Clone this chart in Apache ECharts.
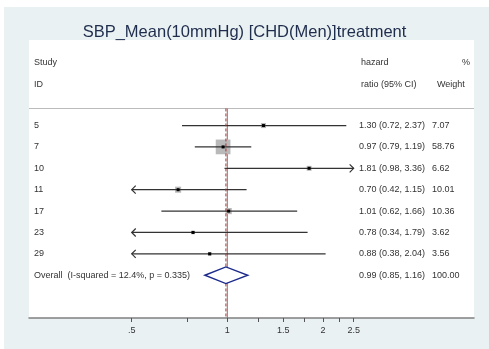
<!DOCTYPE html>
<html><head><meta charset="utf-8">
<script src="https://cdn.jsdelivr.net/npm/echarts@6/dist/echarts.min.js"></script>
<style>
html,body{margin:0;padding:0;background:#fff;}
#bg{position:absolute;left:4px;top:7px;width:485px;height:342px;background:#e9f1f2;}
#main{position:absolute;left:0;top:0;width:489px;height:349px;}
</style></head>
<body><div id="bg"></div><div id="main"></div>
<script>
const titleText = 'SBP_Mean(10mmHg) [CHD(Men)]treatment';
const studies = ['5','7','10','11','17','23','29'];
const hr = [1.30, 0.97, 1.81, 0.70, 1.01, 0.78, 0.88];
const lo = [0.72, 0.79, 0.98, 0.42, 0.62, 0.34, 0.38];
const hi = [2.37, 1.19, 3.36, 1.15, 1.66, 1.79, 2.04];
const weights = [7.07, 58.76, 6.62, 10.01, 10.36, 3.62, 3.56];
const ciText = ['1.30 (0.72, 2.37)','0.97 (0.79, 1.19)','1.81 (0.98, 3.36)','0.70 (0.42, 1.15)','1.01 (0.62, 1.66)','0.78 (0.34, 1.79)','0.88 (0.38, 2.04)'];
const weightText = ['7.07','58.76','6.62','10.01','10.36','3.62','3.56'];
const overallLabel = 'Overall  (I-squared = 12.4%, p = 0.335)';
const overallES = 0.99, overallLo = 0.85, overallHi = 1.16;
const overallCI = '0.99 (0.85, 1.16)';
const overallWeight = '100.00';
const tickValues = [0.5, 1, 1.5, 2, 2.5];
const tickLabels = ['.5', '1', '1.5', '2', '2.5'];
const minorTicks = [0.75, 1.25, 1.75, 2.25];
const plotMin = 0.5, plotMax = 2.5;
const nullValue = 1;

const L = Math.log;
const FONT = '"Liberation Sans", Arial, sans-serif';
const TXT = '#333';
const xText = {id: 34, ci: 359, w: 432};

const chart = echarts.init(document.getElementById('main'), null, {renderer: 'canvas'});

function studyItem(params, api) {
  const i = params.dataIndex;
  const y = api.coord([0, i])[1];
  const cx = v => api.coord([L(v), i])[0];
  const children = [];
  const l = Math.max(lo[i], plotMin), h = Math.min(hi[i], plotMax);
  const x1 = cx(l), x2 = cx(h);
  const lineStyle = {stroke: '#333', lineWidth: 1.2, fill: null};
  const s = 1.92 * Math.sqrt(weights[i]);
  const xp = cx(hr[i]);
  children.push({type: 'rect', shape: {x: xp - s/2, y: y - s/2, width: s, height: s}, style: {fill: '#b9b9b9'}});
  children.push({type: 'line', shape: {x1: x1, y1: y, x2: x2, y2: y}, style: lineStyle});
  if (lo[i] < plotMin) children.push({type: 'polyline', shape: {points: [[x1 + 4, y - 4], [x1, y], [x1 + 4, y + 4]]}, style: lineStyle});
  if (hi[i] > plotMax) children.push({type: 'polyline', shape: {points: [[x2 - 4, y - 4], [x2, y], [x2 - 4, y + 4]]}, style: lineStyle});
  children.push({type: 'rect', shape: {x: xp - 1.5, y: y - 1.5, width: 3, height: 3}, style: {fill: '#000'}});
  const ts = {fill: TXT, fontSize: 9, fontFamily: FONT, verticalAlign: 'middle', align: 'left'};
  children.push({type: 'text', x: xText.id, y: y, style: Object.assign({text: studies[i]}, ts)});
  children.push({type: 'text', x: xText.ci, y: y, style: Object.assign({text: ciText[i]}, ts)});
  children.push({type: 'text', x: xText.w, y: y, style: Object.assign({text: weightText[i]}, ts)});
  return {type: 'group', children: children};
}

function overallItem(params, api) {
  const i = studies.length;
  const y = api.coord([0, i])[1];
  const cx = v => api.coord([L(v), i])[0];
  const hgt = 8.3;
  const ts = {fill: TXT, fontSize: 9, fontFamily: FONT, verticalAlign: 'middle', align: 'left'};
  return {type: 'group', children: [
    {type: 'polygon', shape: {points: [[cx(overallLo), y], [cx(overallES), y - hgt], [cx(overallHi), y], [cx(overallES), y + hgt]]},
      style: {fill: '#fff', stroke: '#1c2a8c', lineWidth: 1.4}},
    {type: 'text', x: xText.id, y: y, style: Object.assign({text: overallLabel}, ts)},
    {type: 'text', x: xText.ci, y: y, style: Object.assign({text: overallCI}, ts)},
    {type: 'text', x: xText.w, y: y, style: Object.assign({text: overallWeight}, ts)}
  ]};
}

const hdr = {fill: TXT, fontSize: 9, fontFamily: FONT, verticalAlign: 'middle'};
const option = {
  animation: false,
  backgroundColor: 'transparent',
  title: {text: titleText, left: 'center', top: 19, textStyle: {fontSize: 16.5, fontWeight: 'normal', color: '#1f2d4d', fontFamily: FONT}},
  grid: {left: 29, right: 15, top: 40, bottom: 31, show: true, backgroundColor: '#fff', borderWidth: 0},
  xAxis: {
    type: 'value', min: -1.438, max: 1.789,
    splitLine: {show: false},
    axisLine: {onZero: false, lineStyle: {color: '#808080', width: 1.5}},
    axisTick: {show: true, length: 4, lineStyle: {color: '#555'}, customValues: tickValues.concat(minorTicks).map(L)},
    axisLabel: {customValues: tickValues.map(L), color: TXT, fontSize: 9, fontFamily: FONT, margin: 8,
      formatter: v => { const k = tickValues.findIndex(t => Math.abs(L(t) - v) < 1e-6); return k >= 0 ? tickLabels[k] : ''; }}
  },
  yAxis: {type: 'value', inverse: true, min: -4, max: 9, show: false},
  graphic: [
    {type: 'text', left: 34, top: 58, style: Object.assign({text: 'Study'}, hdr)},
    {type: 'text', left: 34, top: 80, style: Object.assign({text: 'ID'}, hdr)},
    {type: 'text', left: 361, top: 58, style: Object.assign({text: 'hazard'}, hdr)},
    {type: 'text', left: 361, top: 80, style: Object.assign({text: 'ratio (95% CI)'}, hdr)},
    {type: 'text', left: 462, top: 58, style: Object.assign({text: '%'}, hdr)},
    {type: 'text', left: 437, top: 80, style: Object.assign({text: 'Weight'}, hdr)},
    {type: 'line', shape: {x1: 29, y1: 108.5, x2: 474, y2: 108.5}, style: {stroke: '#bbbbbb', lineWidth: 1}}
  ],
  series: [
    {type: 'line', data: [[L(nullValue), -0.8], [L(nullValue), 9]], symbol: 'none', lineStyle: {color: '#7a7a7a', width: 1}, z: 1},
    {type: 'line', data: [[L(overallES), -0.8], [L(overallES), 9]], symbol: 'none', lineStyle: {color: '#b03030', width: 1, type: [3, 2]}, z: 3},
    {type: 'custom', renderItem: studyItem, data: studies.map((s, i) => [L(hr[i]), i]), z: 2},
    {type: 'custom', renderItem: overallItem, data: [[L(overallES), studies.length]], z: 4}
  ]
};
chart.setOption(option);
</script></body></html>
